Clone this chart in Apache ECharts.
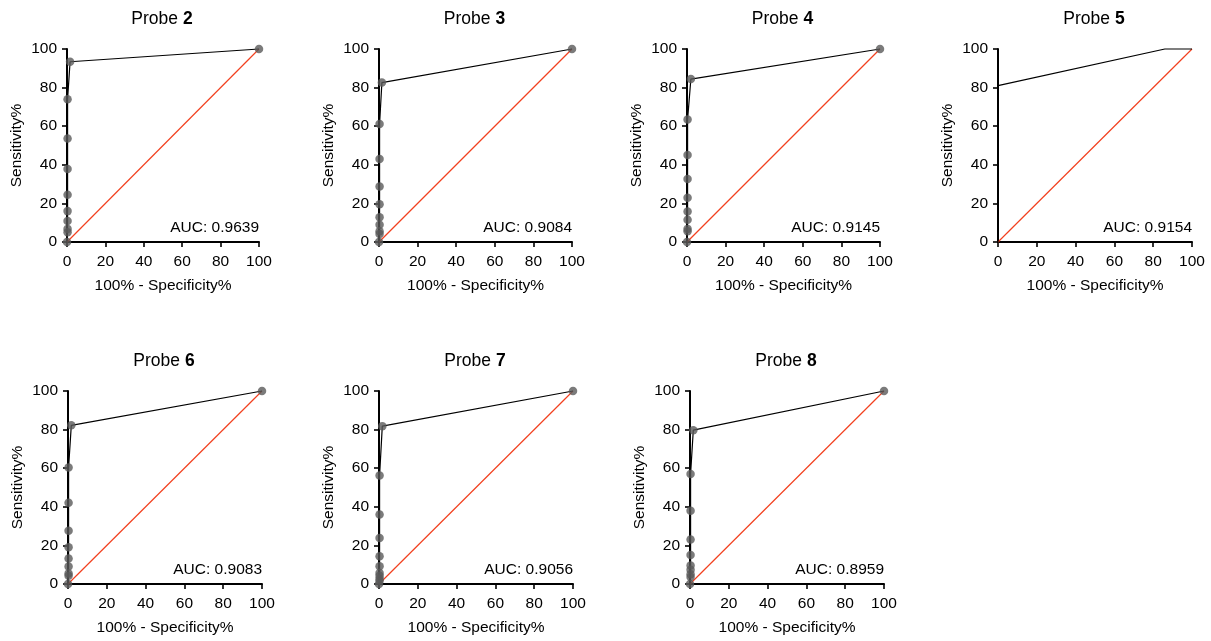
<!DOCTYPE html>
<html>
<head>
<meta charset="utf-8">
<script src="https://cdn.jsdelivr.net/npm/echarts@6/dist/echarts.min.js"></script>
<style>
html,body{margin:0;padding:0;background:#fff;}
#chart{width:1211px;height:641px;}
</style>
</head>
<body>
<div id="chart"></div>
<script>
// ---- data ----
const probeNames = ['2', '3', '4', '5', '6', '7', '8'];
const aucValues = ['0.9639', '0.9084', '0.9145', '0.9154', '0.9083', '0.9056', '0.8959'];

const probe2Fpr  = [0, 0.3, 0.3, 0.3, 0.3, 0.3, 0.3, 0.3, 0.3, 1.6, 100];
const probe2Sens = [0, 5, 6.8, 10.9, 16, 24.5, 37.8, 53.6, 74, 93.4, 100];

const probe3Fpr  = [0, 0.3, 0.3, 0.3, 0.3, 0.3, 0.3, 0.3, 0.3, 1.5, 100];
const probe3Sens = [0, 4.2, 5.6, 8.9, 12.8, 19.6, 28.8, 43, 61.1, 82.6, 100];

const probe4Fpr  = [0, 0.3, 0.3, 0.3, 0.3, 0.3, 0.3, 0.3, 0.3, 2, 100];
const probe4Sens = [0, 5.6, 6.8, 11.5, 15.8, 22.9, 32.6, 45.1, 63.5, 84.4, 100];

const probe5Fpr  = [0, 0, 86, 100];
const probe5Sens = [0, 81, 100, 100];

const probe6Fpr  = [0, 0.3, 0.3, 0.3, 0.3, 0.3, 0.3, 0.3, 0.3, 1.7, 100];
const probe6Sens = [0, 4.3, 5.5, 9.1, 13.2, 19, 27.6, 42.1, 60.4, 82.2, 100];

const probe7Fpr  = [0, 0.3, 0.3, 0.3, 0.3, 0.3, 0.3, 0.3, 0.3, 0.3, 1.7, 100];
const probe7Sens = [0, 1.7, 2.7, 4.3, 5.7, 9.2, 14.4, 23.8, 36, 56.2, 81.8, 100];

const probe8Fpr  = [0, 0.3, 0.3, 0.3, 0.3, 0.3, 0.3, 0.3, 0.3, 1.7, 100];
const probe8Sens = [0, 3.6, 5, 7.4, 9.6, 15, 23, 38, 57, 79.7, 100];

const referenceX = [0, 100];
const referenceY = [0, 100];

const axisMin = 0, axisMax = 100, axisStep = 20;
const xAxisTitle = '100% - Specificity%';
const yAxisTitle = 'Sensitivity%';

const curves = [
  [probe2Fpr, probe2Sens, true],
  [probe3Fpr, probe3Sens, true],
  [probe4Fpr, probe4Sens, true],
  [probe5Fpr, probe5Sens, false],
  [probe6Fpr, probe6Sens, true],
  [probe7Fpr, probe7Sens, true],
  [probe8Fpr, probe8Sens, true]
];

// ---- layout ----
const grids = [
  {left: 67,  top: 49,  width: 192, height: 193},
  {left: 379, top: 49,  width: 193, height: 193},
  {left: 687, top: 49,  width: 193, height: 193},
  {left: 998, top: 49,  width: 194, height: 193},
  {left: 68,  top: 391, width: 194, height: 193},
  {left: 379, top: 391, width: 194, height: 193},
  {left: 690, top: 391, width: 194, height: 193}
];

const FONT = 'Liberation Sans, Arial, Helvetica, sans-serif';
const zip = (a, b) => a.map((v, i) => [v, b[i]]);

const option = {
  animation: false,
  backgroundColor: '#fff',
  textStyle: {fontFamily: FONT},
  title: [],
  grid: [],
  xAxis: [],
  yAxis: [],
  series: [],
  graphic: []
};

grids.forEach((g, i) => {
  option.grid.push({left: g.left, top: g.top, width: g.width, height: g.height, containLabel: false});
  const axisCommon = {
    type: 'value', gridIndex: i, min: axisMin, max: axisMax, interval: axisStep,
    splitLine: {show: false},
    axisLine: {show: true, onZero: false, lineStyle: {color: '#000', width: 2}},
    axisTick: {show: true, length: 5, inside: false, lineStyle: {color: '#000', width: 1.6}},
    axisLabel: {color: '#000', fontSize: 15.5, fontFamily: FONT},
    nameLocation: 'middle',
    nameTextStyle: {color: '#000', fontSize: 15.5, fontFamily: FONT}
  };
  option.xAxis.push(Object.assign({}, axisCommon, {
    name: xAxisTitle, nameGap: 36,
    axisLabel: Object.assign({}, axisCommon.axisLabel, {margin: 12})
  }));
  option.yAxis.push(Object.assign({}, axisCommon, {
    name: yAxisTitle, nameGap: 42,
    axisLabel: Object.assign({}, axisCommon.axisLabel, {margin: 10})
  }));

  option.title.push({
    text: '{n|Probe }{b|' + probeNames[i] + '}',
    left: g.left + g.width / 2 - 1,
    top: g.top - 39,
    textAlign: 'center',
    padding: 0,
    textStyle: {
      fontWeight: 'normal',
      rich: {
        n: {fontSize: 17.5, color: '#000', fontWeight: 'normal', fontFamily: FONT},
        b: {fontSize: 17.5, color: '#000', fontWeight: 'bold', fontFamily: FONT}
      }
    }
  });

  // reference diagonal
  option.series.push({
    type: 'line', xAxisIndex: i, yAxisIndex: i,
    data: zip(referenceX, referenceY),
    symbol: 'none', silent: true, clip: false,
    lineStyle: {color: '#f2401f', width: 1.2}
  });
  // ROC curve
  const c = curves[i];
  option.series.push({
    type: 'line', xAxisIndex: i, yAxisIndex: i,
    data: zip(c[0], c[1]),
    symbol: 'circle', symbolSize: 8.5, showSymbol: c[2], clip: false,
    itemStyle: {color: 'rgba(90,90,90,0.8)'},
    lineStyle: {color: '#000', width: 1.2}
  });

  option.graphic.push({
    type: 'text',
    x: g.left + g.width,
    y: g.top + g.height - 14,
    style: {
      text: 'AUC: ' + aucValues[i],
      align: 'right', verticalAlign: 'middle',
      fontSize: 15.5, fill: '#000', fontFamily: FONT
    }
  });
});

const chart = echarts.init(document.getElementById('chart'), null, {renderer: 'canvas'});
chart.setOption(option);
</script>
</body>
</html>
